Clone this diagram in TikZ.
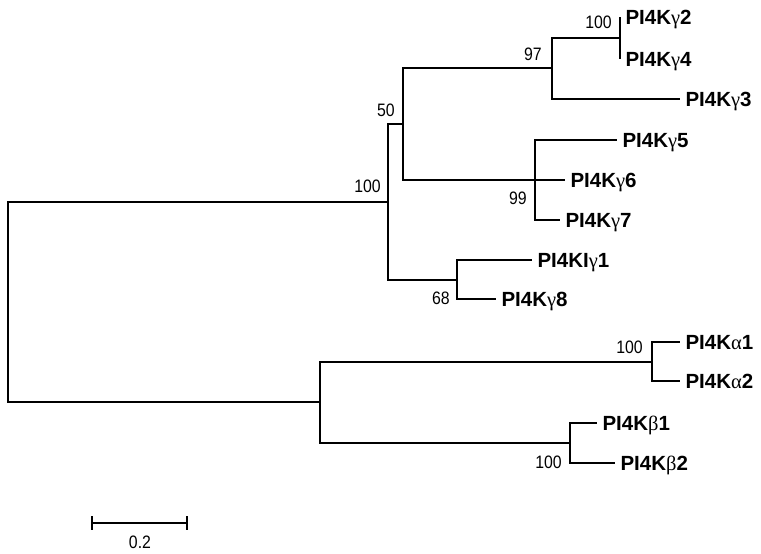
\documentclass[tikz,border=0pt]{standalone}
\usepackage{fontspec}
\setmainfont{Liberation Sans}
\newfontfamily\greekfont{Liberation Serif}
\newfontfamily\bootfont[FakeStretch=0.88]{Liberation Sans}
\usetikzlibrary{positioning}
\newcommand{\gk}[1]{{\greekfont\mdseries #1}}

\begin{document}
\begin{tikzpicture}[x=1pt,y=-1pt,
  branch/.style={line width=1.3pt},
  leaf/.style={anchor=west,inner sep=0pt,outer xsep=5.5pt,text height=14.6pt,text depth=0pt,font=\fontsize{20.5}{24}\selectfont\bfseries},
  boot/.style={inner sep=0pt,font=\bootfont\fontsize{18}{21}\selectfont}]
\useasboundingbox (0,0) rectangle (761,554);
% inner nodes of the tree
\foreach \n/\x/\y in {r/8/302,nU/388/202,nL/320/402,n50/403/124,n68/457/280,n97/552/68,n99/535/180,nG/620/38,nA/652/362,nB/570/443} {\coordinate (\n) at (\x,\y);}
% leaves
\foreach \n/\x/\y/\t in {g2/620/17/{PI4K\gk{γ}2},g4/620/59/{PI4K\gk{γ}4},g3/680/99/{PI4K\gk{γ}3},g5/617/140/{PI4K\gk{γ}5},g6/565/180/{PI4K\gk{γ}6},g7/560/220/{PI4K\gk{γ}7},g1/532/260/{PI4KI\gk{γ}1},g8/496/299/{PI4K\gk{γ}8},a1/680/342/{PI4K\gk{α}1},a2/680/381/{PI4K\gk{α}2},b1/597/423/{PI4K\gk{β}1},b2/615/463/{PI4K\gk{β}2}} {\node[leaf] (\n) at (\x,\y) {\t};}
% branches
\foreach \p/\c in {r/nU,r/nL,nU/n50,nU/n68,n50/n97,n50/n99,n97/nG,n97/g3.west,nG/g2.west,nG/g4.west,n99/g5.west,n99/g6.west,n99/g7.west,n68/g1.west,n68/g8.west,nL/nA,nL/nB,nA/a1.west,nA/a2.west,nB/b1.west,nB/b2.west} {\draw[branch] (\p) |- (\c);}
% bootstrap values
\node[boot,above left=9pt and 7pt of nU] (bU) {100};
\node[boot,above left=7pt and 8pt of n50] (b50) {50};
\node[boot,above left=7pt and 10pt of n97] (b97) {97};
\node[boot,above left=9pt and 8pt of nG] (bG) {100};
\node[boot,below left=12pt and 8pt of n99] (b99) {99};
\node[boot,below left=12pt and 7pt of n68] (b68) {68};
\node[boot,above left=8pt and 9pt of nA] (bA) {100};
\node[boot,below left=13pt and 8pt of nB] (bB) {100};
% scale bar
\coordinate (s0) at (92,523);
\coordinate (s1) at (187,523);
\draw[branch] (s0) -- (s1);
\draw[branch] ([yshift=7pt]s0) -- ([yshift=-7pt]s0);
\draw[branch] ([yshift=7pt]s1) -- ([yshift=-7pt]s1);
\node[boot] (sc) at (140,542) {0.2};
\end{tikzpicture}
\end{document}
